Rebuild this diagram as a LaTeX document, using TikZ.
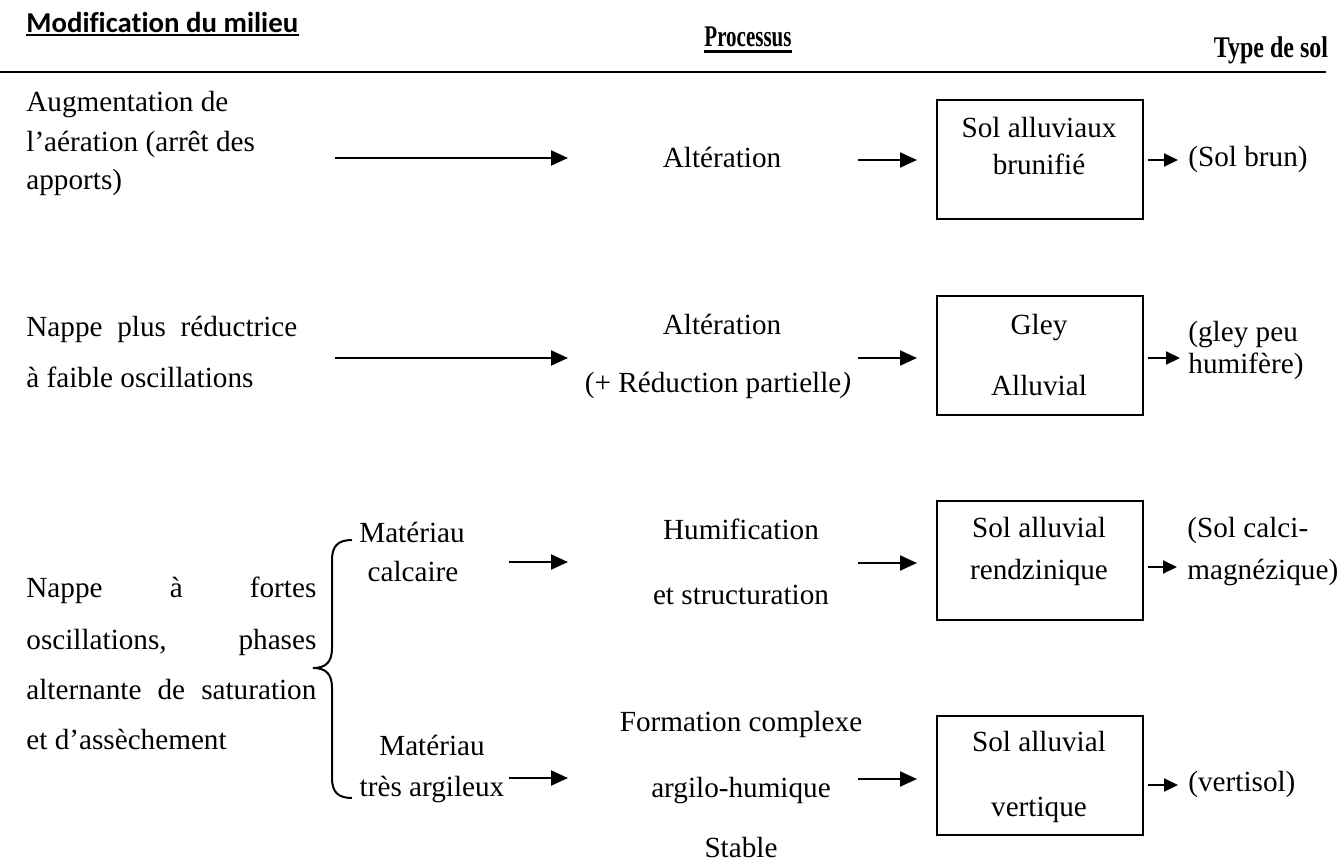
\documentclass[tikz,border=0pt]{standalone}
\usepackage{fontspec}
\setmainfont{Liberation Serif}
\newfontfamily\calib[Ligatures=NoCommon]{Carlito}
\usetikzlibrary{arrows.meta}
\begin{document}
\begin{tikzpicture}[x=0.5pt,y=-0.5pt,
  txt/.style={font=\fontsize{14.6}{17}\selectfont, inner sep=0pt, anchor=base},
  txtl/.style={txt, anchor=base west},
  arr/.style={line width=1pt, -{Triangle[length=8.5pt,width=7.5pt]}},
  sarr/.style={line width=1pt, -{Triangle[length=7pt,width=6.5pt]}},
  soilbox/.style={draw, line width=1pt, minimum width=103pt, minimum height=59.5pt, inner sep=0pt, anchor=north west}]
\useasboundingbox (0,0) rectangle (1341,863);

% headers
\node[anchor=base west, inner sep=0pt, font=\calib\bfseries\fontsize{14.4}{17}\selectfont] (hm) at (26,32) {Modification du milieu};
\draw[line width=1pt] ([yshift=-1.3pt]hm.base west) -- ([yshift=-1.3pt]hm.base east);
\node[anchor=base, inner sep=0pt, font=\bfseries\fontsize{15}{18}\selectfont] (hp) at (748,46) {\scalebox{0.7}[1]{Processus}};
\draw[line width=1.5pt] ([yshift=-2.5pt]hp.base west) -- ([yshift=-2.5pt]hp.base east);
\node[anchor=base, inner sep=0pt, font=\bfseries\fontsize{15}{18}\selectfont] (ht) at (1271,57) {\scalebox{0.8}[1]{Type de sol}};
\coordinate (r0) at (0,72);
\coordinate (r1) at (1326,72);
\draw[line width=1pt] (r0) -- (r1);

% row 1
\node[txtl] (l1a) at (26,111) {Augmentation de};
\node[txtl] (l1b) at (26,151) {l’aération (arrêt des};
\node[txtl] (l1c) at (26,189) {apports)};
\node[txt] (p1) at (722,167) {Altération};
\node[soilbox] (b1) at (936,99) {};
\node[txt] (b1a) at (1039,137) {Sol alluviaux};
\node[txt] (b1b) at (1039,174) {brunifié};
\node[txtl] (s1) at (1188,166) {(Sol brun)};
\coordinate (a1s) at (335,158); \coordinate (a1e) at (568,158);
\coordinate (c1s) at (858,160); \coordinate (c1e) at (917,160);
\coordinate (d1s) at (1148,160); \coordinate (d1e) at (1178,160);
\draw[arr] (a1s) -- (a1e);
\draw[arr] (c1s) -- (c1e);
\draw[sarr] (d1s) -- (d1e);

% row 2
\node[txtl] (l2a) at (26,336) {\makebox[135.5pt][s]{Nappe plus réductrice}};
\node[txtl] (l2b) at (26,387) {à faible oscillations};
\node[txt] (p2a) at (722,334) {Altération};
\node[txt] (p2b) at (718,392) {(+ Réduction partielle{\itshape )}};
\node[soilbox] (b2) at (936,295) {};
\node[txt] (b2a) at (1039,334) {Gley};
\node[txt] (b2b) at (1039,395) {Alluvial};
\node[txtl] (s2a) at (1188,341) {(gley peu};
\node[txtl] (s2b) at (1188,373) {humifère)};
\coordinate (a2s) at (335,358); \coordinate (a2e) at (568,358);
\coordinate (c2s) at (858,358); \coordinate (c2e) at (917,358);
\coordinate (d2s) at (1148,358); \coordinate (d2e) at (1180,358);
\draw[arr] (a2s) -- (a2e);
\draw[arr] (c2s) -- (c2e);
\draw[sarr] (d2s) -- (d2e);

% row 3 left text
\node[txtl] (l3a) at (26,597) {\makebox[145pt][s]{Nappe à fortes}};
\node[txtl] (l3b) at (26,649) {\makebox[145pt][s]{oscillations, phases}};
\node[txtl] (l3c) at (26,699) {\makebox[145pt][s]{alternante de saturation}};
\node[txtl] (l3d) at (26,749) {et d’assèchement};
\draw[line width=1pt] (352,540) .. controls (338,540) and (332,546) .. (332,560) -- (332,648)
  .. controls (332,662) and (326,668) .. (313,668)
  .. controls (326,668) and (332,674) .. (332,688) -- (332,778)
  .. controls (332,792) and (338,798) .. (352,798);

% row 3
\node[txt] (m3a) at (412,542) {Matériau};
\node[txt] (m3b) at (413,581) {calcaire};
\node[txt] (p3a) at (741,539) {Humification};
\node[txt] (p3b) at (741,604) {et structuration};
\node[soilbox] (b3) at (936,500) {};
\node[txt] (b3a) at (1039,537) {Sol alluvial};
\node[txt] (b3b) at (1039,579) {rendzinique};
\node[txtl] (s3a) at (1187,537) {(Sol calci-};
\node[txtl] (s3b) at (1187,579) {magnézique)};
\coordinate (a3s) at (509,562); \coordinate (a3e) at (568,562);
\coordinate (c3s) at (858,563); \coordinate (c3e) at (917,563);
\coordinate (d3s) at (1148,567); \coordinate (d3e) at (1177,567);
\draw[arr] (a3s) -- (a3e);
\draw[arr] (c3s) -- (c3e);
\draw[sarr] (d3s) -- (d3e);

% row 4
\node[txt] (m4a) at (432,755) {Matériau};
\node[txt] (m4b) at (432,796) {très argileux};
\node[txt] (p4a) at (741,731) {Formation complexe};
\node[txt] (p4b) at (741,797) {argilo-humique};
\node[txt] (p4c) at (741,857) {Stable};
\node[soilbox] (b4) at (936,715) {};
\node[txt] (b4a) at (1039,751) {Sol alluvial};
\node[txt] (b4b) at (1039,816) {vertique};
\node[txtl] (s4) at (1188,791) {(vertisol)};
\coordinate (a4s) at (509,778); \coordinate (a4e) at (568,778);
\coordinate (c4s) at (858,779); \coordinate (c4e) at (917,779);
\coordinate (d4s) at (1148,785); \coordinate (d4e) at (1178,785);
\draw[arr] (a4s) -- (a4e);
\draw[arr] (c4s) -- (c4e);
\draw[sarr] (d4s) -- (d4e);
\end{tikzpicture}
\end{document}
